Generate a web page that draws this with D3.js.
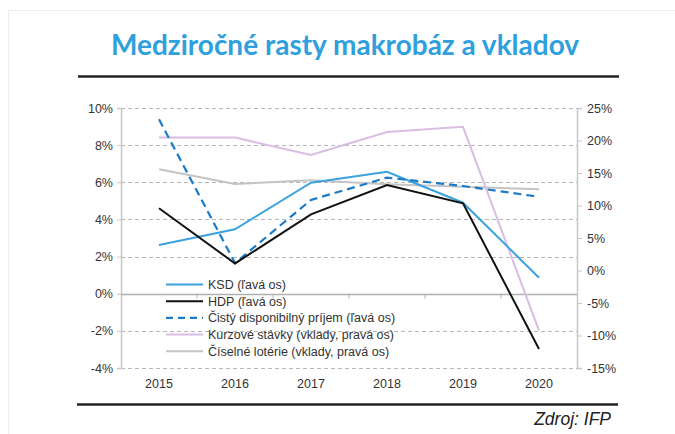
<!DOCTYPE html>
<html>
<head>
<meta charset="utf-8">
<script src="https://cdn.jsdelivr.net/npm/d3@7"></script>
<style>
  body { margin: 0; background: #fff; }
  svg text { font-family: "Liberation Sans", Arial, sans-serif; }
</style>
</head>
<body>
<div id="chart"></div>
<script>
// data
var years = ["2015", "2016", "2017", "2018", "2019", "2020"];
var ksd = [2.62, 3.47, 5.98, 6.57, 4.9, 0.86];
var hdp = [4.6, 1.63, 4.27, 5.85, 4.87, -2.98];
var prijem = [9.39, 1.65, 5.05, 6.25, 5.8, 5.22];
var kurzove = [20.45, 20.45, 17.77, 21.3, 22.1, -9.26];
var loterie = [15.57, 13.3, 13.9, 13.26, 12.9, 12.5];
var leftTicks = [10, 8, 6, 4, 2, 0, -2, -4];
var rightTicks = [25, 20, 15, 10, 5, 0, -5, -10, -15];

var series = [
  { name: "KSD (ľavá os)", values: ksd, axis: "left", color: "#3aa2df", width: 2, dash: null },
  { name: "HDP (ľavá os)", values: hdp, axis: "left", color: "#111", width: 2, dash: null },
  { name: "Čistý disponibilný príjem (ľavá os)", values: prijem, axis: "left", color: "#1c7bc7", width: 2.2, dash: "8,5" },
  { name: "Kurzové stávky (vklady, pravá os)", values: kurzove, axis: "right", color: "#d9bde3", width: 2, dash: null },
  { name: "Číselné lotérie (vklady, pravá os)", values: loterie, axis: "right", color: "#c4c4c4", width: 2, dash: null }
];

var W = 675, H = 434;
var svg = d3.select("#chart").append("svg")
  .attr("width", W)
  .attr("height", H);

// faint frame
svg.append("path")
  .attr("d", "M8.5," + H + "V10.5H" + W)
  .attr("fill", "none")
  .attr("stroke", "#ececec");

svg.append("text")
  .attr("x", 345)
  .attr("y", 55)
  .attr("text-anchor", "middle")
  .style("font-family", "Lato, 'Open Sans', sans-serif")
  .style("font-weight", "bold")
  .style("font-size", "28px")
  .attr("fill", "#2f9fdd")
  .text("Medziročné rasty makrobáz a vkladov");

svg.append("line")
  .attr("x1", 78).attr("x2", 619)
  .attr("y1", 76.5).attr("y2", 76.5)
  .attr("stroke", "#222").attr("stroke-width", 2.5);

svg.append("line")
  .attr("x1", 77).attr("x2", 618)
  .attr("y1", 404.5).attr("y2", 404.5)
  .attr("stroke", "#222").attr("stroke-width", 2.5);

svg.append("text")
  .attr("x", 611)
  .attr("y", 425)
  .attr("text-anchor", "end")
  .style("font-style", "italic")
  .style("font-size", "17.5px")
  .attr("fill", "#222")
  .text("Zdroj: IFP");

var pLeft = 121, pRight = 577, pTop = 108, pBottom = 368;

var x = d3.scaleBand().domain(years).range([pLeft, pRight]);
var yL = d3.scaleLinear().domain([-4, 10]).range([pBottom, pTop]);
var yR = d3.scaleLinear().domain([-15, 25]).range([pBottom, pTop]);

// grid
svg.append("g").selectAll("line")
  .data(leftTicks.filter(function(d){ return d != 0 }))
  .enter()
  .append("line")
  .attr("x1", pLeft).attr("x2", pRight)
  .attr("y1", function(d){ return Math.round(yL(d)) + 0.5 })
  .attr("y2", function(d){ return Math.round(yL(d)) + 0.5 })
  .attr("stroke", "#b5b5b5")
  .attr("stroke-dasharray", "4,3");

// left axis
var axL = svg.append("g")
  .attr("transform", "translate(" + pLeft + ",0)")
  .call(d3.axisLeft(yL).tickValues(leftTicks).tickSize(4).tickFormat(function(d){ return d + "%" }));
// right axis
var axR = svg.append("g")
  .attr("transform", "translate(" + pRight + ",0)")
  .call(d3.axisRight(yR).tickValues(rightTicks).tickSize(5).tickFormat(function(d){ return d + "%" }));

[axL, axR].forEach(function(ax){
  ax.select(".domain").attr("stroke", "#c8c8c8").attr("stroke-width", 1.5);
  ax.selectAll(".tick line").attr("stroke", "#c8c8c8");
  ax.selectAll(".tick text")
    .attr("fill", "#333")
    .style("font-size", "12.5px")
    .style("font-family", "'Liberation Sans', Arial, sans-serif");
});
axL.selectAll(".tick text").attr("x", -8);
axR.selectAll(".tick text").attr("x", 10);

// zero line with category ticks
var zeroY = Math.round(yL(0)) + 0.5;
svg.append("line")
  .attr("x1", pLeft).attr("x2", pRight)
  .attr("y1", zeroY).attr("y2", zeroY)
  .attr("stroke", "#b0b0b0").attr("stroke-width", 1.5);

svg.append("g").selectAll("line")
  .data(years.slice(1))
  .enter()
  .append("line")
  .attr("x1", function(d){ return x(d) })
  .attr("x2", function(d){ return x(d) })
  .attr("y1", zeroY).attr("y2", zeroY + 4)
  .attr("stroke", "#b0b0b0");

// x labels
svg.append("g").selectAll("text")
  .data(years)
  .enter()
  .append("text")
  .attr("x", function(d){ return x(d) + x.bandwidth() / 2 })
  .attr("y", 388)
  .attr("text-anchor", "middle")
  .attr("fill", "#333")
  .style("font-size", "12.5px")
  .text(function(d){ return d });

// series lines, drawn back to front
var order = [4, 3, 0, 2, 1];
order.forEach(function(k){
  var s = series[k];
  var yS = s.axis == "left" ? yL : yR;
  var line = d3.line()
    .x(function(d, i){ return x(years[i]) + x.bandwidth() / 2 })
    .y(function(d){ return yS(d) });
  svg.append("path")
    .datum(s.values)
    .attr("d", line)
    .attr("fill", "none")
    .attr("stroke", s.color)
    .attr("stroke-width", s.width)
    .attr("stroke-dasharray", s.dash)
    .attr("stroke-linejoin", "miter");
});

// legend
var legend = svg.append("g").selectAll("g")
  .data(series)
  .enter()
  .append("g")
  .attr("transform", function(d, i){ return "translate(166," + (284.5 + i * 16.7) + ")" });

legend.append("line")
  .attr("x1", 0).attr("x2", 37)
  .attr("stroke", function(d){ return d.color })
  .attr("stroke-width", function(d){ return d.width })
  .attr("stroke-dasharray", function(d){ return d.dash ? "7,5" : null });

legend.append("text")
  .attr("x", 42)
  .attr("y", 4.5)
  .attr("fill", "#333")
  .style("font-size", "12.5px")
  .text(function(d){ return d.name });
</script>
</body>
</html>
